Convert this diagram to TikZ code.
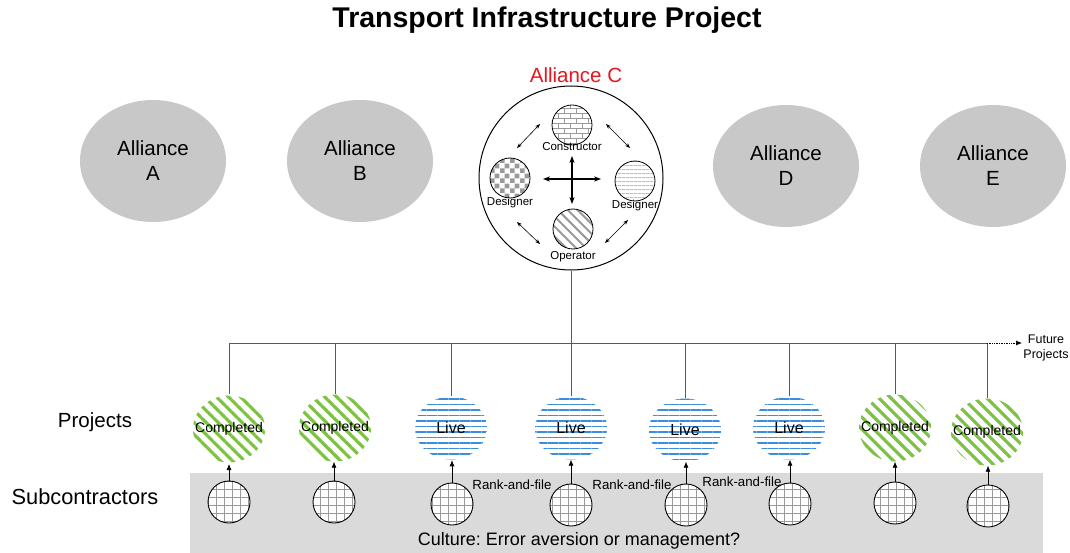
\documentclass[tikz,border=0pt]{standalone}
\usepackage{fontspec}
\setmainfont{Liberation Sans}
\usetikzlibrary{positioning,arrows.meta,patterns.meta,shapes.geometric}
\frenchspacing

\definecolor{allygray}{HTML}{C8C8C8}
\definecolor{bandgray}{HTML}{DADADA}
\definecolor{patgray}{HTML}{9A9A9A}
\definecolor{stripegreen}{HTML}{7DC242}
\definecolor{lineblue}{HTML}{3A8EDB}
\definecolor{allyred}{HTML}{E8141E}

% patterns for the alliance members and subcontractors
\tikzdeclarepattern{
  name=brickwall, type=uncolored,
  bottom left={(-.5pt,-.5pt)}, top right={(12.5pt,10.5pt)}, tile size={(12pt,10pt)},
  code={\draw[line width=.6pt] (0pt,0pt) -- (12pt,0pt) (0pt,5pt) -- (12pt,5pt)
        (0pt,0pt) -- (0pt,5pt) (6pt,5pt) -- (6pt,10pt);}
}
\tikzdeclarepattern{
  name=bigchecker, type=uncolored,
  bottom left={(0pt,0pt)}, top right={(10pt,10pt)}, tile size={(10pt,10pt)},
  code={\fill (0pt,0pt) rectangle (5pt,5pt); \fill (5pt,5pt) rectangle (10pt,10pt);}
}
\tikzdeclarepattern{
  name=subgrid, type=uncolored,
  bottom left={(-.5pt,-.5pt)}, top right={(8.5pt,8.5pt)}, tile size={(8pt,8pt)},
  code={\draw[line width=.7pt] (0pt,0pt) -- (8pt,0pt) (0pt,0pt) -- (0pt,8pt);}
}

\begin{document}
\begin{tikzpicture}[x=1pt,y=-1pt,
    alliance/.style={ellipse,fill=allygray,minimum width=146pt,minimum height=122pt,
      align=center,font=\fontsize{20.5}{25}\selectfont},
    member/.style={circle,draw,line width=.8pt,minimum size=40pt,inner sep=0pt,
      preaction={fill=white},pattern color=patgray},
    role/.style={font=\fontsize{11.5}{13}\selectfont,inner sep=1pt},
    done/.style={ellipse,minimum width=72pt,minimum height=67pt,inner sep=0pt,
      pattern={Lines[angle=-45,distance=8.5pt,line width=3.2pt]},pattern color=stripegreen,
      label={[font=\fontsize{14}{16}\selectfont]center:#1}},
    live/.style={ellipse,minimum width=72pt,minimum height=63pt,inner sep=0pt,
      pattern={Lines[angle=0,distance=5.5pt,line width=1.5pt]},pattern color=lineblue,
      label={[font=\fontsize{16}{18}\selectfont]center:#1}},
    sub/.style={circle,draw,line width=.9pt,minimum size=42pt,inner sep=0pt,
      preaction={fill=white},pattern=subgrid,pattern color=patgray},
    link/.style={{Stealth[length=5pt]}-{Stealth[length=5pt]},line width=.6pt},
    cross/.style={{Stealth[length=7pt]}-{Stealth[length=7pt]},line width=1.2pt},
    feed/.style={-{Latex[length=6pt,width=5pt]},line width=.6pt},
    bus/.style={draw=black!65,line width=.8pt},
    side/.style={font=\fontsize{20.5}{24}\selectfont}
  ]
  \useasboundingbox (0,0) rectangle (1070,553);

  \node[font=\bfseries\fontsize{28.5}{32}\selectfont] (title) at (547,20) {Transport Infrastructure Project};

  % alliances
  \node[alliance] (allyA) at (153,161) {Alliance\\A};
  \node[alliance] (allyB) at (360,161) {Alliance\\B};
  \node[alliance] (allyD) at (786,166) {Alliance\\D};
  \node[alliance] (allyE) at (993,166) {Alliance\\E};

  \node[circle,draw,line width=1pt,minimum size=184pt] (allyC) at (571,178) {};
  \node[text=allyred,font=\fontsize{20.5}{23}\selectfont] (allyClbl) at (576,75) {Alliance C};

  \node[member,pattern=brickwall] (con) at (572,125) {};
  \node[role,below=-4pt of con] (conlbl) {Constructor};
  \node[member,pattern=bigchecker] (desL) at (510,178) {};
  \node[role,below=-2pt of desL] (desLlbl) {Designer};
  \node[member,pattern={Lines[angle=0,distance=4pt,line width=.6pt]}] (desR) at (635,181) {};
  \node[role,below=-2pt of desR] (desRlbl) {Designer};
  \node[member,pattern={Lines[angle=-45,distance=7pt,line width=2pt]}] (op) at (573,229) {};
  \node[role,below=0pt of op] (oplbl) {Operator};

  \draw[cross] (543,179) -- (601,179);
  \draw[cross] (572,156) -- (572,204);
  \foreach \a/\b in {{(540,124)}/{(517,148)},{(606,124)}/{(630,148)},
                     {(517,222)}/{(540,244)},{(628,220)}/{(605,243)}}
    \draw[link] \a -- \b;

  % projects
  \foreach \n/\x/\y/\kind/\txt in {1/229/429/done/Completed,2/335/428/done/Completed,
      3/451/428/live/Live,4/571/428/live/Live,5/685/430/live/Live,6/789/428/live/Live,
      7/895/428/done/Completed,8/987/432/done/Completed}
    \node[\kind=\txt] (p\n) at (\x,\y) {};

  \coordinate (bus) at (230,343);
  \coordinate (fut) at (1022,343);
  \draw[bus] (allyC.south) -- (allyC.south |- bus);
  \draw[bus] (p1.north |- bus) -- (p8.north |- bus);
  \foreach \n in {1,...,8}
    \draw[bus] (p\n.north) -- (p\n.north |- bus);
  \draw[densely dotted,line width=.7pt,-{Latex[length=6pt,width=5pt]}] (p8.north |- bus) -- (fut);
  \node[font=\fontsize{12.5}{15}\selectfont,align=center,inner sep=1pt]
    (futlbl) at (1046,348) {Future\\Projects};

  % subcontractors
  \fill[bandgray] (190,473) rectangle (1043,553);
  \foreach \n/\x/\y in {1/229/502,2/334/502,3/452/504,4/571/505,5/686/505,6/790/504,7/895/503,8/988/506}
  {
    \node[sub] (s\n) at (\x,\y) {};
    \draw[feed] (s\n.north) -- (s\n.north |- p\n.south);
  }
  \foreach \x/\y in {512/485,632/485,742/482}
    \node[font=\fontsize{13.3}{15}\selectfont] at (\x,\y) {Rank-and-file};
  \node[font=\fontsize{18}{20}\selectfont] (culture) at (579,541) {Culture: Error aversion or management?};

  \node[side] (projlbl) at (95,422) {Projects};
  \node[side,font=\fontsize{21.8}{24}\selectfont] (sublbl) at (85,497) {Subcontractors};
\end{tikzpicture}
\end{document}
